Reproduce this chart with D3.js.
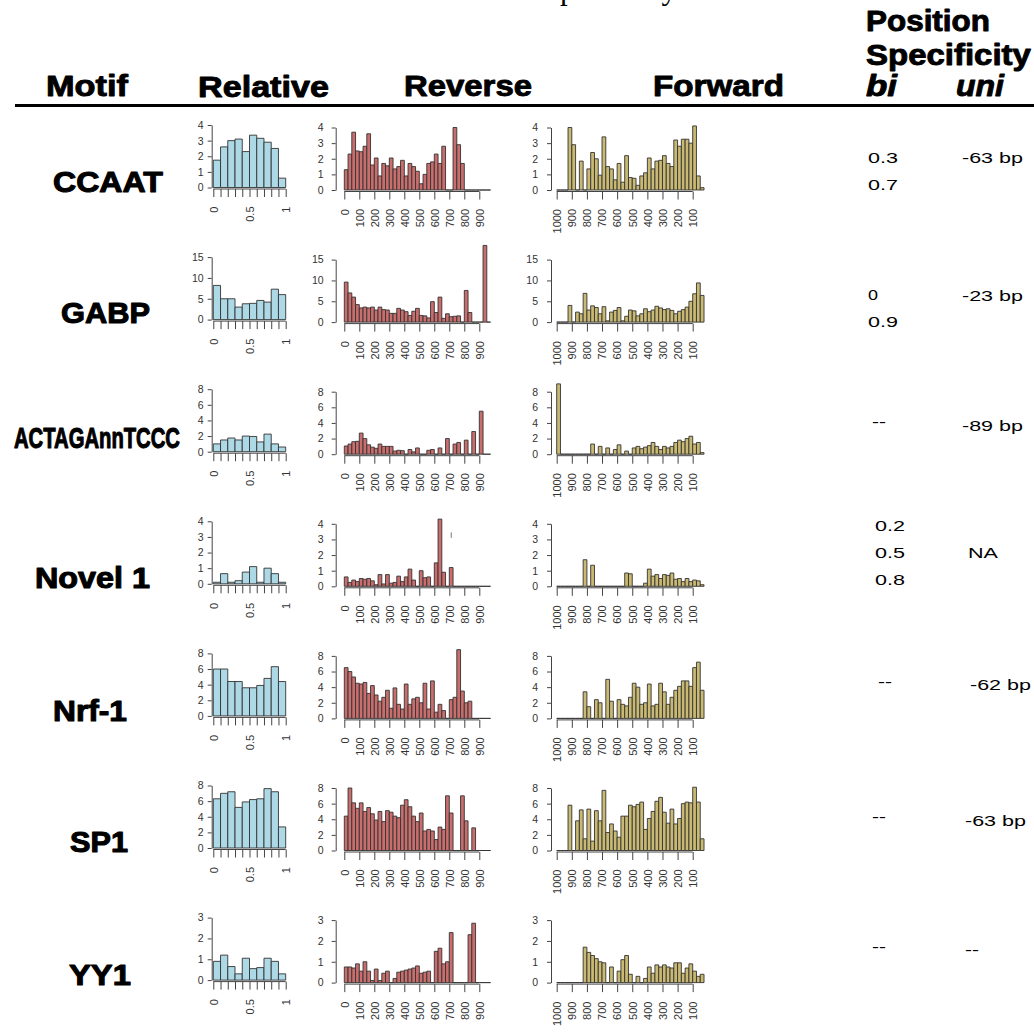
<!DOCTYPE html>
<html>
<head>
<meta charset="utf-8">
<script src="https://cdn.jsdelivr.net/npm/d3@7"></script>
<style>
  body { margin: 0; background: #fff; }
  svg { display: block; }
</style>
</head>
<body>
<svg id="fig" width="1034" height="1034"></svg>
<script>
// ---- data ----
const motifs = ["CCAAT", "GABP", "ACTAGAnnTCCC", "Novel 1", "Nrf-1", "SP1", "YY1"];

// relative position histograms (10 bins over 0..1)
const relative = [
  [1.75, 2.6, 3.0, 3.1, 2.3, 3.35, 3.15, 2.9, 2.5, 0.6],
  [8.2, 5.0, 5.0, 3.0, 3.8, 3.9, 4.6, 4.2, 7.3, 6.0],
  [1.0, 1.5, 1.75, 1.5, 2.0, 1.95, 1.25, 2.25, 1.0, 0.6],
  [0.1, 0.65, 0.1, 0.2, 0.75, 1.1, 0.1, 1.0, 0.65, 0.1],
  [6.0, 6.0, 4.4, 4.4, 3.6, 3.6, 3.9, 4.8, 6.3, 4.4],
  [6.3, 7.0, 7.2, 5.2, 5.9, 6.2, 6.3, 7.6, 7.2, 2.7],
  [0.9, 1.2, 0.65, 0.3, 1.05, 0.55, 0.6, 1.05, 0.9, 0.3]
];

// reverse strand distance histograms (25 bp bins from 0)
const reverse = [
  [1.3, 2.3, 3.7, 2.5, 2.45, 2.8, 3.6, 1.6, 2.05, 0.9, 1.7, 1.55, 2.05, 1.35, 1.5, 1.9, 0.9, 1.7, 1.5, 1.2, 0.4, 1.0, 1.7, 1.8, 2.3, 1.7, 2.8, 0, 0, 4.0, 2.9, 1.7, 0, 0, 0, 0, 0, 0, 0],
  [9.6, 7.0, 6.0, 4.2, 3.4, 3.6, 3.4, 3.6, 2.9, 3.6, 3.0, 2.9, 2.1, 2.1, 3.3, 2.9, 2.5, 1.6, 2.6, 3.3, 1.6, 1.5, 1.0, 4.9, 2.3, 6.0, 0.9, 2.0, 1.3, 1.4, 1.5, 0, 7.6, 2.3, 0, 0, 0, 18.4, 0],
  [1.05, 1.3, 1.6, 1.65, 2.7, 2.0, 1.2, 0.9, 0.75, 1.3, 1.0, 1.0, 1.0, 0.4, 0.5, 0.45, 0, 0.6, 0.3, 0.8, 0, 0, 0.5, 0.6, 0, 0.8, 0, 2.0, 0, 1.3, 1.5, 0, 1.8, 0, 2.9, 0, 5.5, 0, 0],
  [0.6, 0.25, 0.4, 0.3, 0.5, 0.45, 0.5, 0.35, 0.1, 0.75, 0.15, 0.75, 0.2, 0.25, 0.65, 0.3, 0.6, 1.1, 0.4, 0, 1.0, 0.55, 0.6, 0, 1.5, 4.3, 0.9, 0, 1.2, 0, 0, 0, 0, 0, 0, 0, 0, 0, 0],
  [6.5, 6.0, 5.3, 4.5, 4.4, 4.6, 3.2, 4.2, 3.0, 2.2, 2.7, 3.6, 1.3, 3.9, 1.8, 1.2, 4.4, 1.8, 2.5, 2.7, 2.0, 4.5, 1.2, 4.8, 0.8, 1.8, 1.0, 0, 2.4, 2.7, 8.8, 3.5, 2.0, 2.2, 0, 0, 0, 0, 0],
  [4.4, 8.0, 6.1, 5.4, 6.1, 5.0, 5.5, 4.7, 3.9, 5.0, 3.7, 5.1, 4.9, 4.4, 4.2, 5.8, 6.5, 5.6, 4.4, 3.7, 4.8, 2.5, 2.7, 2.5, 1.4, 3.0, 2.7, 7.0, 4.8, 0, 0, 7.0, 3.8, 0, 2.9, 0, 0, 0, 0],
  [0.75, 0.75, 0.7, 0.9, 0.55, 1.0, 0.55, 0.1, 0.65, 0.1, 0.45, 0.55, 0, 0.2, 0.5, 0.55, 0.6, 0.65, 0.7, 0.8, 0.45, 0.5, 0.55, 0, 1.5, 1.65, 0.9, 1.0, 2.4, 0, 0, 0, 0, 2.3, 2.85, 0, 0, 0, 0]
];

// forward strand distance histograms (25 bp bins counting down from 1000)
const forward = [
  [0, 0, 0, 4.0, 2.9, 0, 1.85, 0, 1.35, 2.4, 2.0, 0.95, 3.4, 1.5, 1.35, 0.65, 1.7, 0.5, 2.2, 0.8, 0.75, 0.3, 0.9, 1.1, 2.05, 1.35, 1.85, 1.9, 2.2, 1.7, 1.5, 3.2, 2.8, 3.25, 3.25, 3.0, 4.1, 0.9, 0.15],
  [0, 0, 0, 4.0, 0, 2.4, 2.0, 6.9, 2.9, 3.9, 3.5, 2.0, 3.7, 0.3, 2.4, 2.8, 3.5, 0.3, 1.4, 2.9, 2.7, 1.5, 2.0, 3.2, 2.5, 2.9, 3.8, 3.4, 3.0, 3.2, 2.8, 2.0, 2.6, 3.0, 3.6, 5.0, 6.8, 9.4, 6.4],
  [9.0, 0, 0, 0, 0, 0, 0, 0, 0, 1.3, 0, 1.0, 0, 0.8, 0, 0.6, 1.2, 0, 0.4, 0, 0.8, 1.0, 0.7, 0.9, 1.1, 1.5, 1.0, 0.6, 1.0, 0.8, 1.0, 1.5, 1.8, 1.6, 2.0, 2.3, 1.3, 1.5, 0.2],
  [0, 0, 0, 0, 0, 0, 0, 1.7, 0, 1.35, 0, 0, 0, 0, 0, 0, 0, 0, 0.85, 0.8, 0, 0, 0, 0.2, 1.1, 0.65, 0.75, 0.5, 0.75, 0.7, 0.85, 0.45, 0.5, 0.3, 0.5, 0.3, 0.4, 0.35, 0.1],
  [0, 0, 0, 0, 0, 0, 0, 3.4, 1.5, 0, 2.4, 2.0, 0, 5.0, 2.2, 0, 2.4, 1.8, 1.6, 2.7, 4.5, 4.0, 1.8, 2.0, 4.4, 1.6, 1.8, 4.5, 3.4, 1.8, 2.7, 3.6, 4.1, 4.8, 4.8, 4.1, 6.5, 7.2, 3.6],
  [0, 0, 0, 5.8, 0, 3.8, 5.2, 1.5, 5.3, 1.2, 5.1, 3.8, 7.7, 2.3, 3.4, 2.5, 1.7, 4.4, 4.4, 5.8, 5.6, 5.9, 6.2, 2.7, 4.1, 5.0, 6.3, 6.8, 4.9, 3.5, 5.3, 3.4, 4.1, 6.0, 6.2, 6.1, 8.1, 6.2, 1.5],
  [0, 0, 0, 0, 0, 0, 0, 1.7, 1.45, 1.3, 1.15, 1.0, 0.95, 0, 0.75, 0, 0.55, 1.1, 1.3, 0.4, 0, 0.3, 0, 0.2, 0.75, 0.45, 0.85, 0.75, 0.85, 0.75, 0.7, 0.95, 0.95, 0.45, 0.7, 0.9, 0.55, 0.3, 0.4]
];

const yMaxTick = [4, 15, 8, 4, 8, 8, 3];
const yStep = [1, 5, 2, 1, 2, 2, 1];

const relTicks = d3.range(0, 11).map(i => i / 10);
const relLabels = [0, 0.5, 1];
const revTicks = d3.range(0, 1000, 100);
const fwdTicks = d3.range(1000, 0, -100);
const relBin = 0.1;
const bpBin = 25;

const biSpec = [["0.3", "0.7"], ["0", "0.9"], ["--"], ["0.2", "0.5", "0.8"], ["--"], ["--"], ["--"]];
const uniSpec = ["-63 bp", "-23 bp", "-89 bp", "NA", "-62 bp", "-63 bp", "--"];

// small stray stroke printed above the Novel 1 reverse panel: [bp, from, to]
const novelStroke = [713, 3.1, 3.45];

// ---- layout ----
const W = 1034;
const rowZero0 = 190, rowStep = 132.1, panelH = 62.5;
const SANS = "'Liberation Sans', Arial, Helvetica, sans-serif";

const panelDefs = {
  rel: { r0: 213.3, r1: 285.7, axisX: 211.7, pad: 4, shift: -2.5, fill: "#add8e6" },
  rev: { r0: 344.3, r1: 494.3, axisX: 335.7, pad: 8, shift: 0, fill: "#c96d6d" },
  fwd: { r0: 556.7, r1: 707.8, axisX: 551.0, pad: 9, shift: 0, fill: "#c9b972" }
};

// motif label boxes: [x, baseline, width]
const motifBox = [[53, 192, 110], [61, 323, 89], [14, 448, 166], [35, 588, 115], [53, 721, 74], [70, 852, 58], [69, 985, 62]];
// specificity columns: [bi x, bi first baseline, uni x, uni baseline]
const specBox = [[868, 163, 962, 163], [868, 300, 962, 301], [872, 427, 962, 431], [875, 531, 968, 558],
                 [878, 687, 970, 690], [872, 822, 965, 826], [872, 952, 965, 955]];

const svg = d3.select("#fig");
svg.append("rect").attr("width", W).attr("height", W).attr("fill", "#fff");

// text drawn at its natural size, then squeezed/stretched horizontally to a given width
function txt(x, y, str, size, width, o = {}) {
  const t = svg.append("text")
    .attr("font-family", o.family || SANS)
    .attr("font-size", size)
    .attr("font-weight", o.weight || "normal")
    .attr("font-style", o.style || "normal")
    .attr("fill", "#000")
    .text(str);
  if (o.stroke) t.attr("stroke", "#000").attr("stroke-width", o.stroke).attr("stroke-linejoin", "round");
  if (width) {
    const nat = t.node().getComputedTextLength() || width;
    t.attr("transform", `translate(${x},${y}) scale(${width / nat},1)`);
  } else {
    t.attr("x", x).attr("y", y);
  }
  return t;
}

// ---- header ----
// caption line above the table, mostly outside the page: only descenders show
txt(548, -1.5, "specificity", 31, null, { family: "'Liberation Serif', 'Times New Roman', serif" });
const H = { weight: "bold", stroke: 0.9 };
txt(46, 96, "Motif", 29, 82, H);
txt(198, 97, "Relative", 29, 131, H);
txt(404, 96, "Reverse", 29, 128, H);
txt(653, 96, "Forward", 29, 131, H);
txt(866, 31, "Position", 29, 124, H);
txt(866, 65, "Specificity", 29, 165, H);
txt(866, 96, "bi", 29, 31, { weight: "bold", style: "italic", stroke: 0.9 });
txt(956, 96, "uni", 29, 48, { weight: "bold", style: "italic", stroke: 0.9 });
svg.append("line").attr("x1", 15).attr("x2", W).attr("y1", 105.5).attr("y2", 105.5)
  .attr("stroke", "#000").attr("stroke-width", 3);

// ---- one histogram panel ----
function drawPanel(def, zero, values, x, binEdge, xTicks, xFmt, yMax, step) {
  const g = svg.append("g");
  const z = zero + def.shift;
  const y = d3.scaleLinear().domain([0, yMax]).range([z, z - panelH]);

  // bars (zero-count bins show as a flat outline)
  g.selectAll("path.bar").data(values).join("path")
    .attr("class", "bar")
    .attr("d", (v, i) => {
      const xa = x(binEdge(i)), xb = x(binEdge(i + 1));
      return `M${xa},${y(0)}V${y(v)}H${xb}V${y(0)}Z`;
    })
    .attr("fill", def.fill)
    .attr("stroke", "#333")
    .attr("stroke-width", 0.9);

  // y axis
  const ya = g.append("g").attr("transform", `translate(${def.axisX},0)`)
    .call(d3.axisLeft(y).tickValues(d3.range(0, yMax + step / 2, step))
      .tickFormat(d3.format("d"))
      .tickSize(4).tickPadding(def.pad).tickSizeOuter(0));
  ya.select(".domain").attr("stroke", "#444");
  ya.selectAll(".tick line").attr("stroke", "#444");
  ya.selectAll("text").attr("font-family", SANS).attr("font-size", 10.5).attr("fill", "#333");

  // x axis
  const axY = z + 1.5;
  const xa = g.append("g").attr("transform", `translate(0,${axY})`)
    .call(d3.axisBottom(x).tickValues(xTicks).tickSize(8).tickFormat(xFmt));
  xa.select(".domain").remove();
  xa.append("line")
    .attr("x1", x(xTicks[0])).attr("x2", x(xTicks[xTicks.length - 1]))
    .attr("stroke", "#444");
  xa.selectAll(".tick line").attr("stroke", "#444");
  xa.selectAll("text")
    .attr("font-family", SANS).attr("font-size", 11).attr("fill", "#333")
    .attr("transform", "rotate(-90)")
    .attr("text-anchor", "end")
    .attr("x", -(19 - 1.5)).attr("y", 0).attr("dy", "0.35em");
  return y;
}

motifs.forEach((name, r) => {
  const zero = rowZero0 + r * rowStep;
  const ymax = yMaxTick[r], st = yStep[r];

  const xRel = d3.scaleLinear().domain([0, 1]).range([panelDefs.rel.r0, panelDefs.rel.r1]);
  drawPanel(panelDefs.rel, zero, relative[r], xRel, i => i * relBin, relTicks,
    d => relLabels.includes(d) ? String(d) : "", ymax, st);

  const xRev = d3.scaleLinear().domain([0, 1000]).range([panelDefs.rev.r0, panelDefs.rev.r1]);
  const yRev = drawPanel(panelDefs.rev, zero, reverse[r], xRev, i => i * bpBin, revTicks,
    d => String(d), ymax, st);

  const xFwd = d3.scaleLinear().domain([1000, 0]).range([panelDefs.fwd.r0, panelDefs.fwd.r1]);
  drawPanel(panelDefs.fwd, zero, forward[r], xFwd, i => 1000 - i * bpBin, fwdTicks,
    d => String(d), ymax, st);

  if (name === "Novel 1") {
    svg.append("line")
      .attr("x1", xRev(novelStroke[0])).attr("x2", xRev(novelStroke[0]))
      .attr("y1", yRev(novelStroke[1])).attr("y2", yRev(novelStroke[2]))
      .attr("stroke", "#777").attr("stroke-width", 1);
  }

  // motif name
  const mb = motifBox[r];
  txt(mb[0], mb[1], name, 30, mb[2], { weight: "bold", stroke: 1.1 });

  // position specificity
  const sb = specBox[r];
  biSpec[r].forEach((s, k) => {
    const w = s === "--" ? 14 : (s.length === 1 ? 10 : 30);
    txt(sb[0], sb[1] + k * 27, s, 15.5, w);
  });
  const u = uniSpec[r];
  const uw = u === "--" ? 14 : (u === "NA" ? 30 : 61);
  txt(sb[2], sb[3], u, 15.5, uw);
});
</script>
</body>
</html>
